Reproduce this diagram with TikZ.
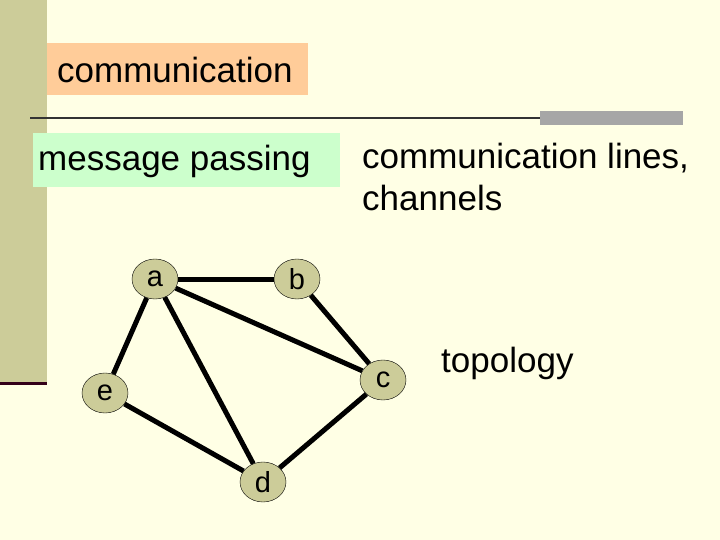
\documentclass[tikz,border=0pt]{standalone}
\usepackage{fontspec}
\setmainfont{Liberation Sans}
\usetikzlibrary{shapes.geometric}
\definecolor{bg}{HTML}{FFFFE5}
\definecolor{olive}{HTML}{CCCC99}
\definecolor{maroon}{HTML}{330019}
\definecolor{orng}{HTML}{FFCC99}
\definecolor{grn}{HTML}{CCFFCC}
\begin{document}
\begin{tikzpicture}[x=1pt,y=-1pt,
  vert/.style={ellipse,draw=black,fill=olive,minimum width=46pt,minimum height=40pt,inner sep=0pt,font=\fontsize{29}{32}\selectfont},
  edge/.style={line width=5pt},
  big/.style={font=\fontsize{35}{42}\selectfont,inner sep=0pt}]
\useasboundingbox (0,0) rectangle (720,540);
\fill[bg] (0,0) rectangle (720,540);
\fill[olive] (0,0) rectangle (47,383);
\draw[maroon,line width=3pt] (0,383) -- (47,383);
\draw[black!80,line width=1.5pt] (30,118) -- (540,118);
\fill[gray!70] (540,111) rectangle (683,125);
\fill[orng] (47,43) rectangle (308,95);
\node[big,anchor=west] (t1t) at (57,70) {communication};
\fill[grn] (33,133) rectangle (340,187);
\node[big,anchor=west] (t2t) at (38,161) {message passing};
\node[big,anchor=north west,align=left] (t3) at (362,143) {communication lines,\\channels};
\node[big,anchor=west] (t4) at (441,363) {topology};
\node[vert] (a) at (155,279) {a};
\node[vert] (b) at (297,279) {b};
\node[vert] (c) at (383,380) {c};
\node[vert] (e) at (105,393) {e};
\node[vert] (d) at (263,482) {d};
\draw[edge] (a) -- (b);
\draw[edge] (b) -- (c);
\draw[edge] (a) -- (c);
\draw[edge] (a) -- (d);
\draw[edge] (a) -- (e);
\draw[edge] (e) -- (d);
\draw[edge] (c) -- (d);
\end{tikzpicture}
\end{document}
